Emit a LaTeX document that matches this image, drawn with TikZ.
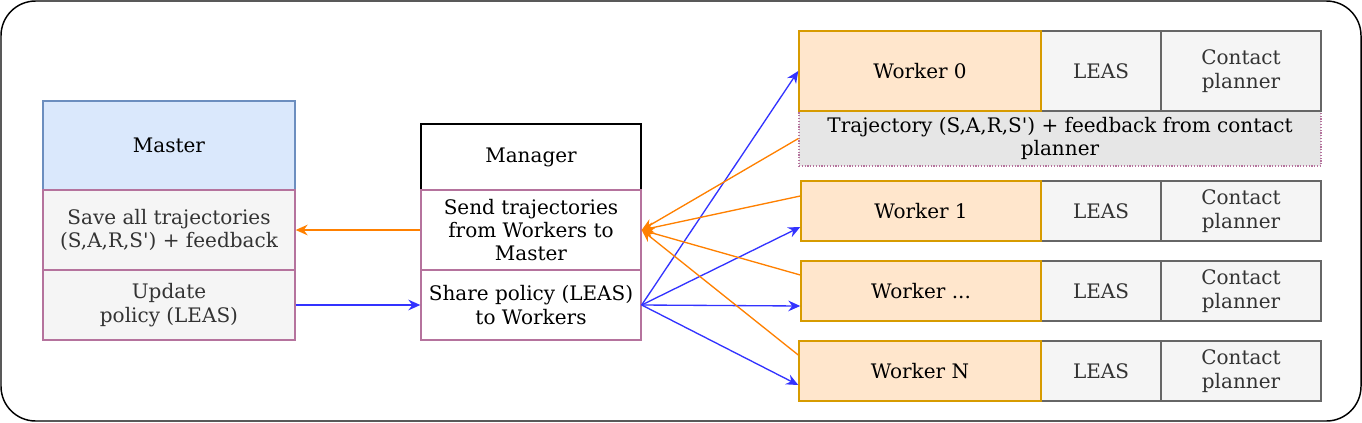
\documentclass[tikz,border=0pt]{standalone}
\usepackage{fontspec}
\setmainfont{DejaVu Serif}
\usetikzlibrary{arrows.meta,calc}
\definecolor{masterfill}{HTML}{DAE8FC}
\definecolor{masterdraw}{HTML}{6C8EBF}
\definecolor{greyfill}{HTML}{F5F5F5}
\definecolor{greydraw}{HTML}{666666}
\definecolor{greytext}{HTML}{333333}
\definecolor{purpdraw}{HTML}{B5739D}
\definecolor{workfill}{HTML}{FFE6CC}
\definecolor{workdraw}{HTML}{D79B00}
\definecolor{trajfill}{HTML}{E6E6E6}
\definecolor{arrblue}{HTML}{3333FF}
\definecolor{arrorange}{HTML}{FF8000}
\newcommand{\q}{\textquotesingle}
\begin{document}
\begin{tikzpicture}[x=0.75pt,y=-0.75pt,
  font=\fontsize{15}{17.5}\selectfont,
  every node/.style={inner sep=0pt, align=center, line width=1pt},
  masterhdr/.style={draw=masterdraw, fill=masterfill},
  purpbox/.style={draw=purpdraw, fill=greyfill, text=greytext},
  purpwhite/.style={draw=purpdraw, fill=white},
  mgrhdr/.style={draw=black, fill=white, line width=1.2pt},
  workbox/.style={draw=workdraw, fill=workfill, line width=1.1pt},
  greybox/.style={draw=greydraw, fill=greyfill, text=greytext},
  trajbox/.style={draw=purpdraw, fill=trajfill, line width=0.9pt, dash pattern=on 0.9pt off 1.2pt},
  tip/.style={-{Stealth[length=9pt,width=8pt,inset=3pt]}},
  bluearr/.style={draw=arrblue, line width=1pt, tip},
  orarr/.style={draw=arrorange, line width=1pt, tip},
]
\useasboundingbox (0,0) rectangle (1362,422);
\draw[line width=1.1pt, rounded corners=26pt] (1,1) rectangle (1361,421);

% Master
\node[masterhdr, minimum width=189pt, minimum height=66.75pt] (master) at (169,145.5) {Master};
\node[purpbox, minimum width=189pt, minimum height=60pt] (save) at (169,230) {Save all trajectories\\(S,A,R,S\q) + feedback};
\node[purpbox, minimum width=189pt, minimum height=52.5pt] (update) at (169,305) {Update\\policy (LEAS)};

% Manager
\node[mgrhdr, minimum width=165pt, minimum height=49.5pt] (manager) at (531,157) {Manager};
\node[purpwhite, minimum width=165pt, minimum height=60pt] (send) at (531,230) {Send trajectories\\from Workers to\\Master};
\node[purpwhite, minimum width=165pt, minimum height=52.5pt] (share) at (531,305) {Share policy (LEAS)\\to Workers};

% Worker 0
\node[trajbox, minimum width=391.5pt, minimum height=41.25pt] (traj) at (1060,138.5) {Trajectory (S,A,R,S\q) + feedback from contact\\planner};
\node[greybox, minimum width=90pt, minimum height=60pt] (l0) at (1101,71) {LEAS};
\node[greybox, minimum width=120pt, minimum height=60pt] (c0) at (1241,71) {Contact\\planner};
\node[workbox, minimum width=181.5pt, minimum height=60pt] (w0) at (920,71) {Worker 0};

% Worker 1
\node[greybox, minimum width=90pt, minimum height=45pt] (l1) at (1101,211) {LEAS};
\node[greybox, minimum width=120pt, minimum height=45pt] (c1) at (1241,211) {Contact\\planner};
\node[workbox, minimum width=180pt, minimum height=45pt] (w1) at (921,211) {Worker 1};

% Worker ...
\node[greybox, minimum width=90pt, minimum height=45pt] (l2) at (1101,291) {LEAS};
\node[greybox, minimum width=120pt, minimum height=45pt] (c2) at (1241,291) {Contact\\planner};
\node[workbox, minimum width=180pt, minimum height=45pt] (w2) at (921,291) {Worker ...};

% Worker N
\node[greybox, minimum width=90pt, minimum height=45pt] (ln) at (1101,371) {LEAS};
\node[greybox, minimum width=120pt, minimum height=45pt] (cn) at (1241,371) {Contact\\planner};
\node[workbox, minimum width=181.5pt, minimum height=45pt] (wn) at (920,371) {Worker N};

% Arrows master/manager
\draw[orarr] (send.west) -- (save.east);
\draw[bluearr] (update.east) -- (share.west);

% Blue arrows to workers
\draw[bluearr] (share.east) -- (w0.west);
\draw[bluearr] (share.east) -- ($(w1.west)+(0,16)$);
\draw[bluearr] (share.east) -- ($(w2.west)+(0,15)$);
\draw[bluearr] (share.east) -- ($(wn.west)+(0,14)$);

% Orange arrows from workers
\draw[orarr] (traj.west) -- (send.east);
\draw[orarr] ($(w1.west)+(0,-15)$) -- (send.east);
\draw[orarr] ($(w2.west)+(0,-16)$) -- (send.east);
\draw[orarr] ($(wn.west)+(0,-16)$) -- (send.east);
\end{tikzpicture}
\end{document}
